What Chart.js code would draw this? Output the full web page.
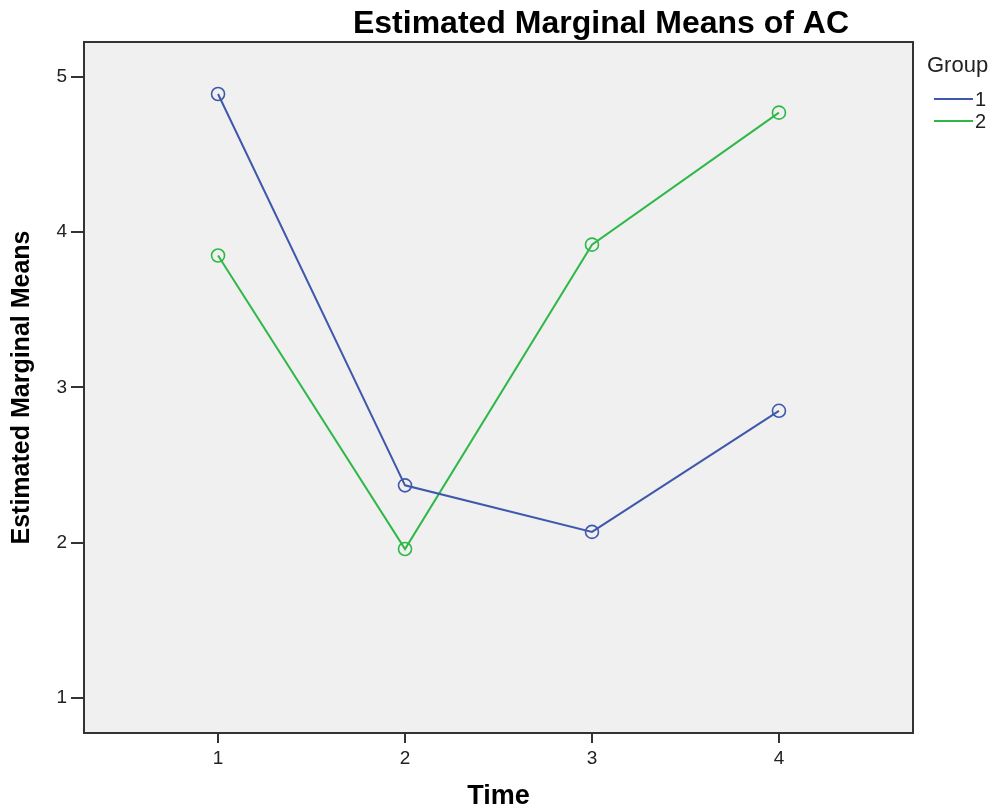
<!DOCTYPE html>
<html>
<head>
<meta charset="utf-8">
<script src="https://cdn.jsdelivr.net/npm/chart.js@4.4.1/dist/chart.umd.min.js"></script>
<style>
  html, body { margin: 0; padding: 0; background: #fff; }
  #wrap { width: 999px; height: 810px; }
</style>
</head>
<body>
<div id="wrap"><canvas id="emmChart" width="999" height="810"></canvas></div>
<script>
// Datos
const timePoints = [1, 2, 3, 4];
const group1 = [4.89, 2.37, 2.07, 2.85];
const group2 = [3.85, 1.96, 3.92, 4.77];
const yTicks = [1, 2, 3, 4, 5];
const groupLabels = ['1', '2'];
const groupColors = ['#3e58ac', '#2eb848'];

const FONT = '"Liberation Sans", Arial, sans-serif';

// Fondo gris del área de trazado, marco, título y leyenda
const frame = {
  id: 'frame',
  beforeDatasetsDraw(chart) {
    const { ctx, chartArea: a } = chart;
    ctx.save();
    ctx.fillStyle = '#f0f0f0';
    ctx.fillRect(a.left, a.top, a.right - a.left, a.bottom - a.top);
    ctx.restore();
  },
  afterDraw(chart) {
    const { ctx, chartArea: a } = chart;
    ctx.save();
    ctx.strokeStyle = '#333';
    ctx.lineWidth = 2;
    ctx.strokeRect(a.left, a.top, a.right - a.left, a.bottom - a.top);

    // Título
    ctx.fillStyle = '#000';
    ctx.font = 'bold 32px ' + FONT;
    ctx.textAlign = 'center';
    ctx.textBaseline = 'alphabetic';
    ctx.fillText('Estimated Marginal Means of AC', 601, 33);

    // Leyenda
    ctx.font = '22px ' + FONT;
    ctx.textAlign = 'left';
    ctx.textBaseline = 'middle';
    ctx.fillStyle = '#222';
    ctx.fillText('Group', 927, 66);
    chart.data.datasets.forEach((ds, i) => {
      const y = 99 + i * 22;
      ctx.strokeStyle = ds.borderColor;
      ctx.lineWidth = 2;
      ctx.beginPath();
      ctx.moveTo(934, y);
      ctx.lineTo(973, y);
      ctx.stroke();
      ctx.font = '20px ' + FONT;
      ctx.fillStyle = '#222';
      ctx.fillText(ds.label, 975, y + 1);
    });
    ctx.restore();
  }
};

function toPoints(values) {
  return timePoints.map((t, i) => ({ x: t, y: values[i] }));
}

function makeDataset(label, values, color) {
  return {
    label: label,
    data: toPoints(values),
    borderColor: color,
    backgroundColor: 'transparent',
    borderWidth: 2,
    pointRadius: 6.5,
    pointBorderWidth: 1.6,
    pointBackgroundColor: 'transparent',
    pointBorderColor: color,
    tension: 0
  };
}

const ctx = document.getElementById('emmChart').getContext('2d');
const myChart = new Chart(ctx, {
  type: 'line',
  data: {
    datasets: [
      makeDataset(groupLabels[0], group1, groupColors[0]),
      makeDataset(groupLabels[1], group2, groupColors[1])
    ]
  },
  options: {
    responsive: false,
    animation: false,
    layout: { padding: { top: 42, right: 86, left: 0, bottom: 0 } },
    plugins: {
      legend: { display: false },
      tooltip: { enabled: false }
    },
    scales: {
      x: {
        type: 'linear',
        min: 0.283,
        max: 4.717,
        afterBuildTicks: axis => { axis.ticks = timePoints.map(v => ({ value: v })); },
        afterFit: axis => { axis.height = 77; },
        border: { display: false },
        grid: { drawOnChartArea: false, drawTicks: true, tickLength: 10, color: '#333', lineWidth: 2 },
        ticks: { color: '#222', font: { family: FONT, size: 19 }, padding: 4 },
        title: {
          display: true, text: 'Time', color: '#000',
          font: { family: FONT, size: 27, weight: 'bold', lineHeight: 1 },
          padding: { top: 0, bottom: 0 }
        }
      },
      y: {
        min: 0.775,
        max: 5.225,
        afterBuildTicks: axis => { axis.ticks = yTicks.map(v => ({ value: v })); },
        afterFit: axis => { axis.width = 84; },
        border: { display: false },
        grid: { drawOnChartArea: false, drawTicks: true, tickLength: 13, color: '#333', lineWidth: 2 },
        ticks: { color: '#222', font: { family: FONT, size: 19 }, padding: 4 },
        title: {
          display: true, text: 'Estimated Marginal Means', color: '#000',
          font: { family: FONT, size: 25, weight: 'bold', lineHeight: 1 },
          padding: { top: 10, bottom: 0 }
        }
      }
    }
  },
  plugins: [frame]
});
</script>
</body>
</html>
